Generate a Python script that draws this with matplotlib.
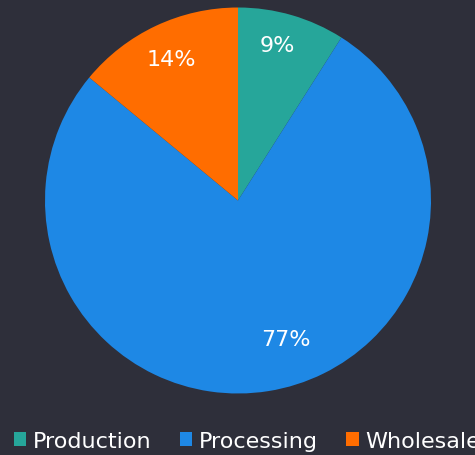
import numpy as np
import matplotlib.pyplot as plt
from matplotlib.patches import Patch

# dados
categorias = ["Production", "Processing", "Wholesale"]
valores = [9, 77, 14]
rotulos = ["9%", "77%", "14%"]
cores = ["#26a69a", "#1e88e5", "#ff6d00"]
fundo = "#2e2f3a"

W, H = 475, 456
fig = plt.figure(figsize=(W / 100, H / 100), dpi=100, facecolor=fundo)

# pizza: centro (238, 201.5), raio 193 px
cx, cy, r = 238, 201.5, 193
ax = fig.add_axes([(cx - r) / W, (H - cy - r) / H, 2 * r / W, 2 * r / H])
ax.set_facecolor(fundo)

wedges, _ = ax.pie(
    valores,
    colors=cores,
    startangle=90,
    counterclock=False,
    radius=1,
    wedgeprops=dict(linewidth=0),
)

# rótulos dentro das fatias (posição como no original)
dist = [0.83, 0.76, 0.81]
ajuste = [2, 10, 0]  # graus
for w, txt, d, a in zip(wedges, rotulos, dist, ajuste):
    ang = np.deg2rad((w.theta1 + w.theta2) / 2 + a)
    ax.text(d * np.cos(ang), d * np.sin(ang), txt, color="white",
            fontsize=16, ha="center", va="center")

ax.set_xlim(-1, 1)
ax.set_ylim(-1, 1)
ax.set_aspect("equal")
ax.axis("off")

# legenda embaixo
handles = [Patch(facecolor=c, edgecolor="none") for c in cores]
fig.legend(
    handles, categorias,
    loc="center left",
    bbox_to_anchor=(14 / W, 1 - 442 / H),
    ncol=3,
    frameon=False,
    borderpad=0,
    borderaxespad=0,
    handlelength=0.55,
    handleheight=0.55,
    handletextpad=0.32,
    columnspacing=1.26,
    fontsize=16,
    labelcolor="white",
)

fig.savefig("out.png", dpi=100, facecolor=fundo)
